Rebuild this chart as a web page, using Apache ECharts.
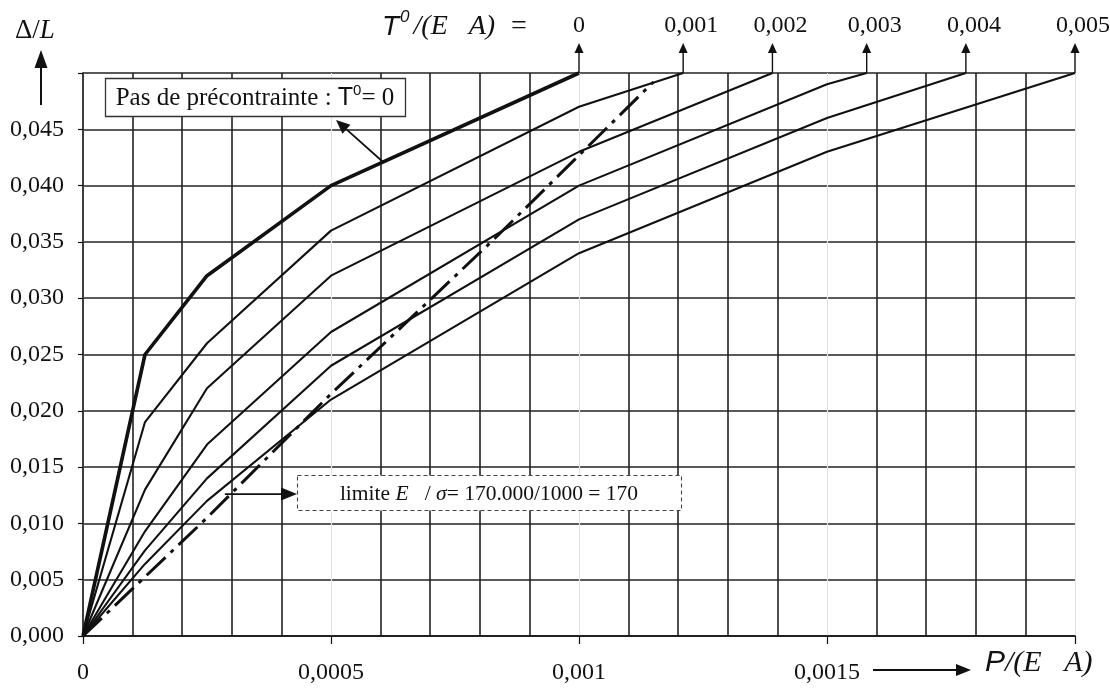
<!DOCTYPE html>
<html>
<head>
<meta charset="utf-8">
<script src="https://cdn.jsdelivr.net/npm/echarts/dist/echarts.min.js"></script>
<style>
  html, body { margin: 0; padding: 0; background: #fff; }
  #chart { width: 1110px; height: 688px; }
</style>
</head>
<body>
<div id="chart"></div>
<script>
// Load-elongation curves, P/(E A) -> Δ/L, one per prestress level T0/(E A)
const prestressLabels = ['0', '0,001', '0,002', '0,003', '0,004', '0,005'];
const curveT0_0   = [[0, 0], [0.000125, 0.025], [0.00025, 0.032], [0.0005, 0.040], [0.001, 0.050]];
const curveT0_001 = [[0, 0], [0.000125, 0.019], [0.00025, 0.026], [0.0005, 0.036], [0.001, 0.047], [0.00121, 0.050]];
const curveT0_002 = [[0, 0], [0.000125, 0.013], [0.00025, 0.022], [0.0005, 0.032], [0.001, 0.043], [0.00139, 0.050]];
const curveT0_003 = [[0, 0], [0.000125, 0.0093], [0.00025, 0.017], [0.0005, 0.027], [0.001, 0.040], [0.0015, 0.049], [0.00158, 0.050]];
const curveT0_004 = [[0, 0], [0.000125, 0.0076], [0.00025, 0.014], [0.0005, 0.024], [0.001, 0.037], [0.0015, 0.046], [0.00178, 0.050]];
const curveT0_005 = [[0, 0], [0.000125, 0.0064], [0.00025, 0.012], [0.0005, 0.021], [0.001, 0.034], [0.0015, 0.043], [0.002, 0.050]];
// Limit line E/σ = 170
const limitLine = [[0, 0], [0.00025, 0.0105], [0.0005, 0.0215], [0.00083, 0.0353], [0.00115, 0.0492]];

const xTickLabels = ['0', '0,0005', '0,001', '0,0015', ''];
const yTickLabels = ['0,000', '0,005', '0,010', '0,015', '0,020', '0,025', '0,030', '0,035', '0,040', '0,045', ''];

const curves = [curveT0_0, curveT0_001, curveT0_002, curveT0_003, curveT0_004, curveT0_005];

const SERIF = '"Liberation Serif", "Times New Roman", serif';
const SANS = '"Liberation Sans", Arial, sans-serif';
const INK = '#111';

const chart = echarts.init(document.getElementById('chart'), null, { renderer: 'canvas' });

const series = curves.map((c, i) => ({
  type: 'line',
  data: c,
  symbol: 'none',
  silent: true,
  animation: false,
  lineStyle: { color: INK, width: i === 0 ? 3.6 : 2.1, join: 'round' },
  z: 5
}));
series.push({
  type: 'line',
  data: limitLine,
  symbol: 'none',
  silent: true,
  animation: false,
  lineStyle: { color: INK, width: 3, type: [26, 7, 4, 7], cap: 'butt' },
  z: 6
});

chart.setOption({
  animation: false,
  backgroundColor: '#fff',
  grid: { left: 83, right: 35, top: 73, bottom: 52, containLabel: false },
  xAxis: {
    type: 'value', min: 0, max: 0.002, interval: 0.0005,
    axisLine: { show: true, lineStyle: { color: INK, width: 1.6 } },
    axisTick: { show: true, length: 8, lineStyle: { color: INK, width: 1.2 } },
    axisLabel: {
      margin: 37, color: INK, fontFamily: SERIF, fontSize: 24, verticalAlign: 'middle',
      formatter: v => xTickLabels[Math.round(v / 0.0005)]
    },
    splitLine: { show: true, lineStyle: { color: '#e4e4e4', width: 1.2 } },
    minorTick: { show: false, splitNumber: 5 },
    minorSplitLine: { show: true, lineStyle: { color: '#222', width: 1.6 } }
  },
  yAxis: {
    type: 'value', min: 0, max: 0.05, interval: 0.005,
    axisLine: { show: true, lineStyle: { color: INK, width: 1.6 } },
    axisTick: { show: true, length: 5, lineStyle: { color: INK, width: 1.2 } },
    axisLabel: {
      margin: 19, color: INK, fontFamily: SERIF, fontSize: 24,
      formatter: v => yTickLabels[Math.round(v / 0.005)]
    },
    splitLine: { show: true, lineStyle: { color: '#222', width: 1.6 } }
  },
  series: series
});

// Annotations: arrows and labels placed from the axis scales
function arrow(x1, y1, x2, y2, head, headW, width) {
  const ang = Math.atan2(y2 - y1, x2 - x1);
  const hl = head, hw = headW / 2;
  const bx = x2 - hl * Math.cos(ang), by = y2 - hl * Math.sin(ang);
  const px = -Math.sin(ang) * hw, py = Math.cos(ang) * hw;
  return {
    type: 'group', silent: true, z: 20,
    children: [
      { type: 'line', shape: { x1: x1, y1: y1, x2: bx, y2: by }, style: { stroke: INK, lineWidth: width } },
      { type: 'polygon', shape: { points: [[x2, y2], [bx + px, by + py], [bx - px, by - py]] }, style: { fill: INK } }
    ]
  };
}

const g = [];
const topY = chart.convertToPixel({ gridIndex: 0 }, [0, 0.05])[1];

// Prestress arrows at the end of each curve
curves.forEach((c, i) => {
  const end = c[c.length - 1];
  const p = chart.convertToPixel({ gridIndex: 0 }, end);
  g.push(arrow(p[0], topY, p[0], 43, 10, 9, 1.4));
  const label = prestressLabels[i];
  g.push({
    type: 'text', silent: true, z: 20,
    style: {
      text: label, x: label.length > 1 ? p[0] - 19 : p[0], y: 26,
      align: label.length > 1 ? 'left' : 'center', verticalAlign: 'middle',
      font: '24px ' + SERIF, fill: INK
    }
  });
});

// Title of the prestress scale
g.push({
  type: 'text', silent: true, z: 20,
  style: {
    x: 382, y: 27, verticalAlign: 'middle',
    text: '{t|T}{s|0}{r|/(E   A)  =}',
    rich: {
      t: { fontFamily: SANS, fontStyle: 'italic', fontSize: 28, lineHeight: 36, fill: INK },
      s: { fontFamily: SANS, fontStyle: 'italic', fontSize: 17, lineHeight: 17, fill: INK, verticalAlign: 'top', padding: [0, 4, 0, 1] },
      r: { fontFamily: SERIF, fontStyle: 'italic', fontSize: 28, lineHeight: 36, fill: INK }
    }
  }
});

// Y axis title with arrow
g.push({
  type: 'text', silent: true, z: 20,
  style: {
    x: 15, y: 31, verticalAlign: 'middle',
    text: '{a|Δ/}{b|L}',
    rich: {
      a: { fontFamily: SERIF, fontSize: 27, fill: INK },
      b: { fontFamily: SERIF, fontStyle: 'italic', fontSize: 27, fill: INK }
    }
  }
});
g.push(arrow(41, 105, 41, 50, 18, 13, 2));

// X axis title with arrow
g.push(arrow(873, 670, 971, 670, 15, 12, 2));
g.push({
  type: 'text', silent: true, z: 20,
  style: {
    x: 985, y: 663, verticalAlign: 'middle',
    text: '{p|P}{r|/(E   A)}',
    rich: {
      p: { fontFamily: SANS, fontStyle: 'italic', fontSize: 30, fill: INK },
      r: { fontFamily: SERIF, fontStyle: 'italic', fontSize: 30, fill: INK }
    }
  }
});

// Label for the curve without prestress
g.push({
  type: 'rect', silent: true, z: 20,
  shape: { x: 105.5, y: 78.5, width: 300, height: 38 },
  style: { fill: '#fff', stroke: '#333', lineWidth: 1.3 }
});
g.push({
  type: 'text', silent: true, z: 21,
  style: {
    x: 255, y: 98, align: 'center', verticalAlign: 'middle',
    text: '{a|Pas de précontrainte : }{t|T}{s|0}{a|= 0}',
    rich: {
      a: { fontFamily: SERIF, fontSize: 25, lineHeight: 30, fill: INK },
      t: { fontFamily: SANS, fontSize: 25, lineHeight: 30, fill: INK },
      s: { fontFamily: SANS, fontSize: 15, lineHeight: 15, fill: INK, verticalAlign: 'top' }
    }
  }
});
const tail0 = chart.convertToPixel({ gridIndex: 0 }, [0.000605, 0.0421]);
g.push(arrow(tail0[0], tail0[1], 336, 120, 14, 12, 1.8));

// Label for the limit line
g.push({
  type: 'rect', silent: true, z: 20,
  shape: { x: 297.5, y: 475.5, width: 384, height: 35 },
  style: { fill: '#fff', stroke: '#444', lineWidth: 1.1, lineDash: [4, 3] }
});
g.push({
  type: 'text', silent: true, z: 21,
  style: {
    x: 489, y: 494, align: 'center', verticalAlign: 'middle',
    text: '{a|limite }{i|E}{a|   / }{i|σ}{a|= 170.000/1000 = 170}',
    rich: {
      a: { fontFamily: SERIF, fontSize: 21.5, fill: INK },
      i: { fontFamily: SERIF, fontStyle: 'italic', fontSize: 21.5, fill: INK }
    }
  }
});
const tailL = chart.convertToPixel({ gridIndex: 0 }, [0.000286, 0.0126]);
g.push(arrow(tailL[0], tailL[1], 297, tailL[1], 16, 13, 1.8));

chart.setOption({ graphic: g });
</script>
</body>
</html>
